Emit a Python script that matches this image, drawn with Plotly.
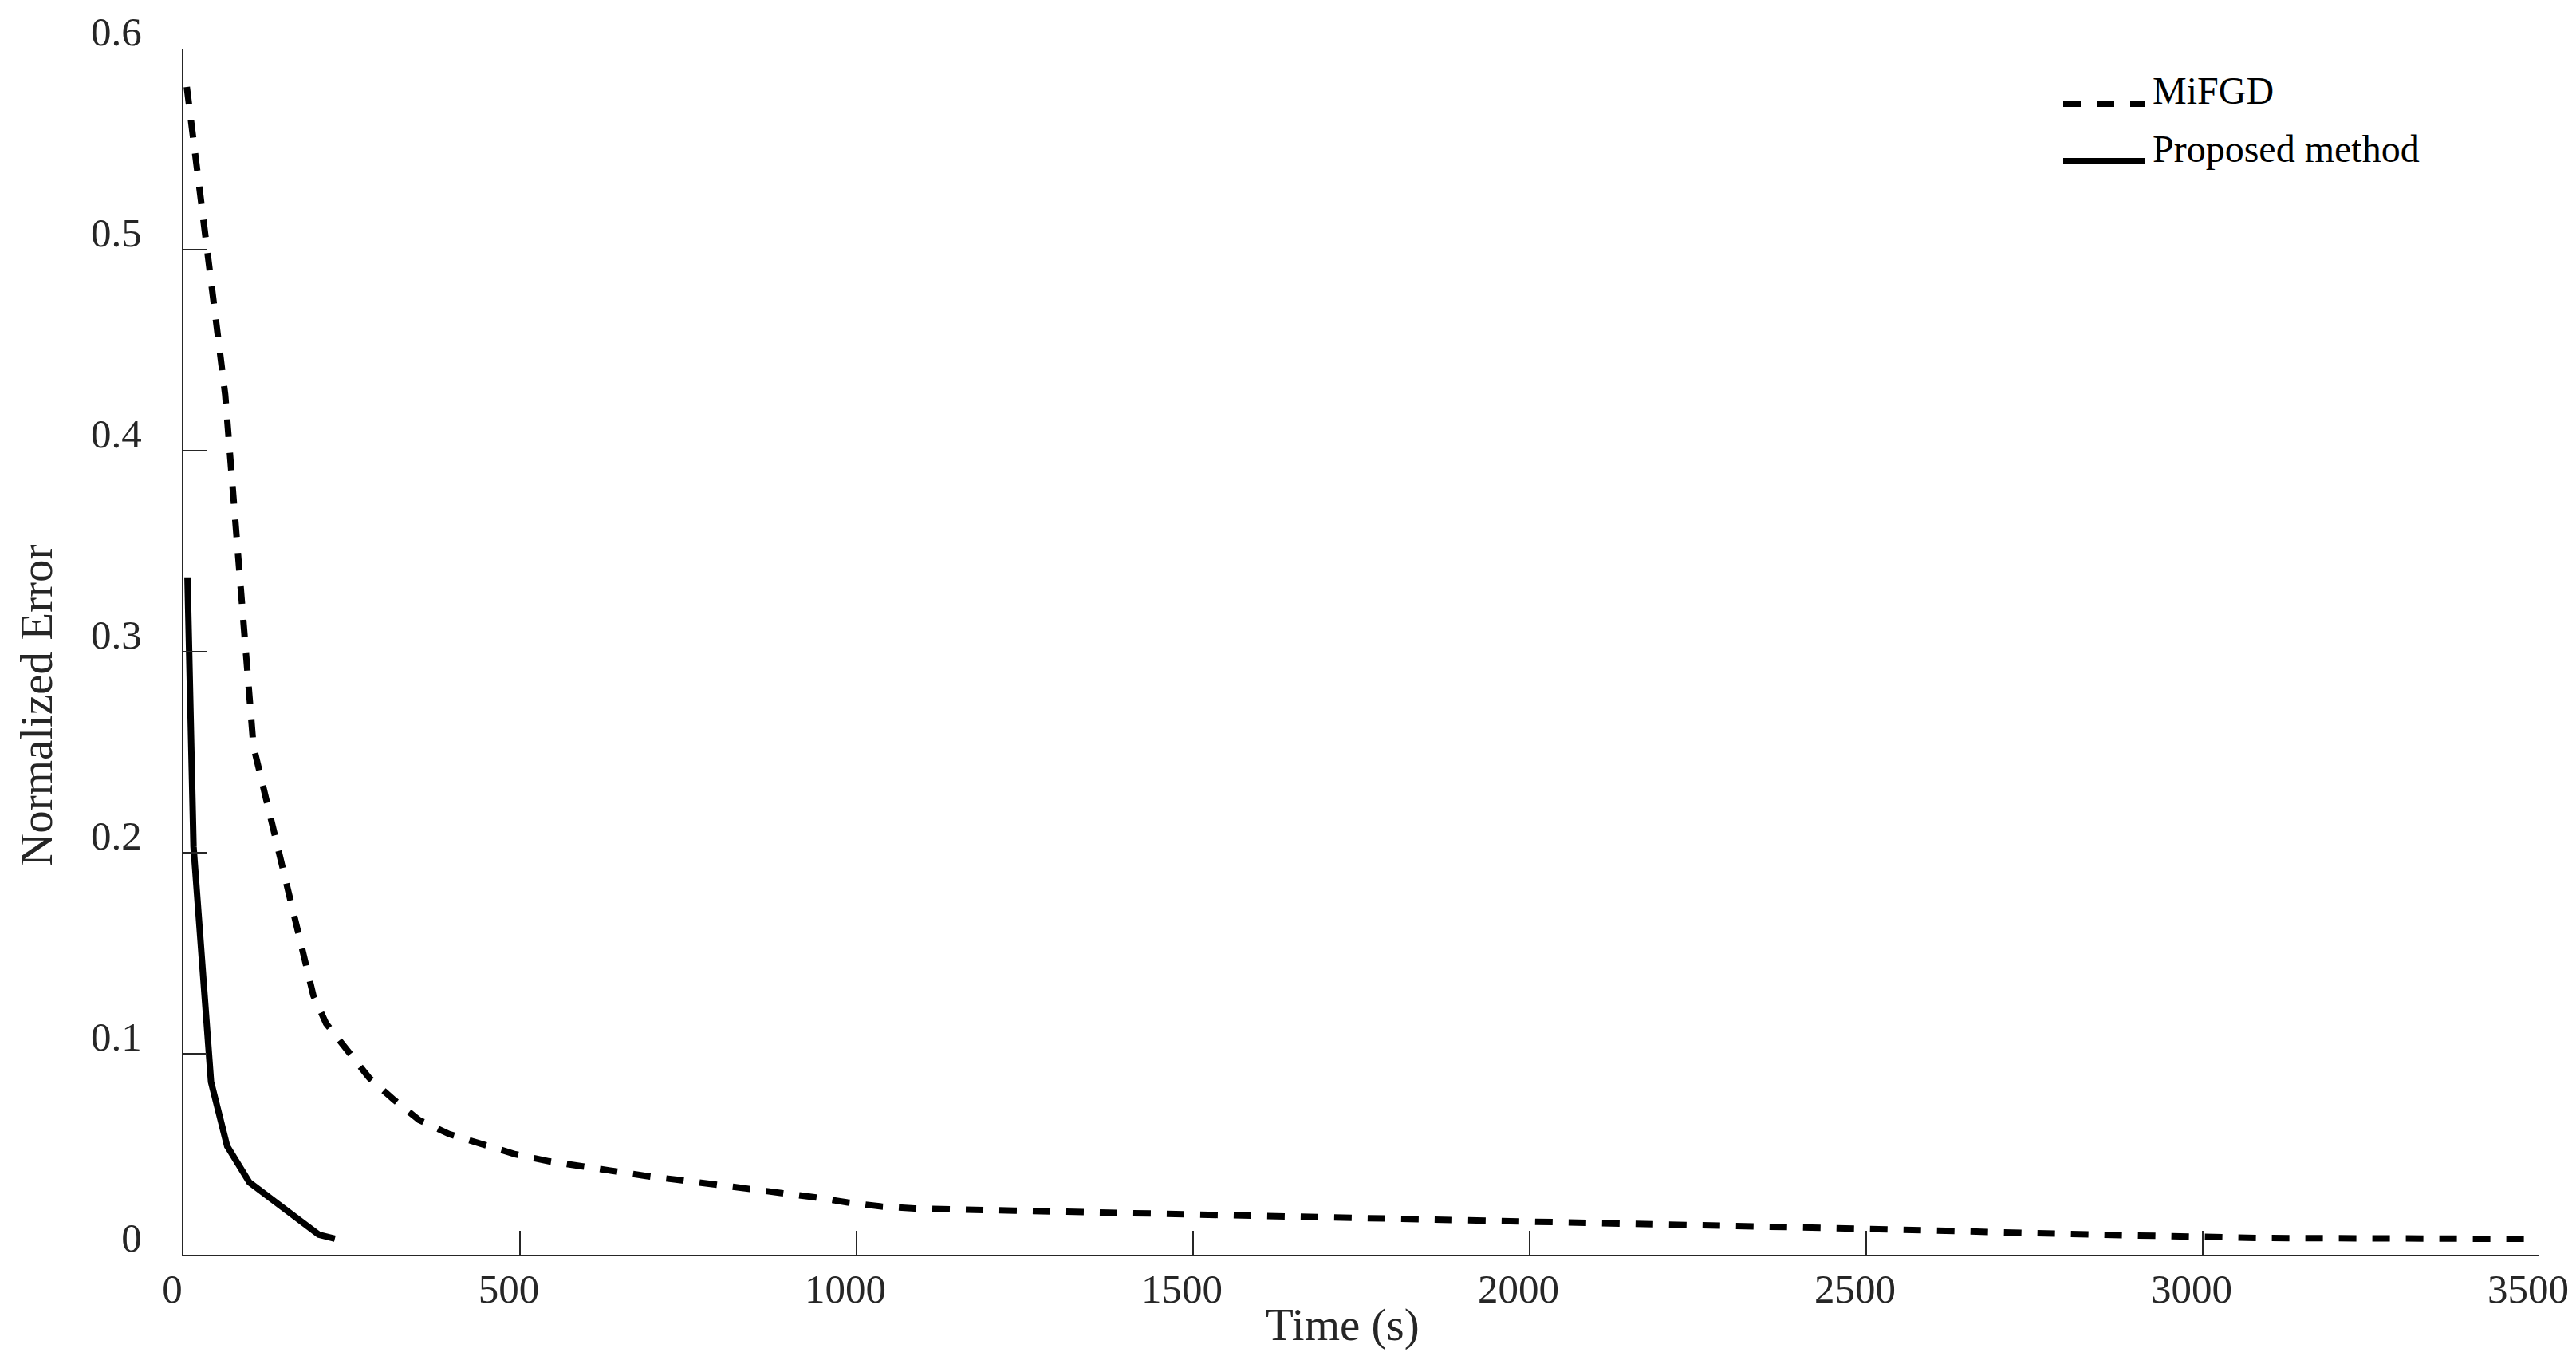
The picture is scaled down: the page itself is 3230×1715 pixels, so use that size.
import plotly.graph_objects as go

# ---- data ----
mifgd_time = [5, 62, 104, 193, 212, 244, 276, 313, 350, 395, 444, 493, 543, 590,
              641, 691, 741, 789, 839, 889, 940, 987, 1037, 1086, 1537, 2139,
              2487, 2841, 3090, 3485]
mifgd_err = [0.581, 0.428, 0.253, 0.129, 0.115, 0.101, 0.088, 0.077, 0.067, 0.060,
             0.055, 0.050, 0.0465, 0.044, 0.0415, 0.039, 0.037, 0.035, 0.033, 0.031,
             0.0285, 0.026, 0.024, 0.023, 0.020, 0.0155, 0.013, 0.010, 0.0083, 0.0079]

proposed_time = [6, 15, 41, 65, 98, 201, 225]
proposed_err = [0.337, 0.203, 0.086, 0.054, 0.036, 0.010, 0.008]

x_ticks = [0, 500, 1000, 1500, 2000, 2500, 3000, 3500]
y_ticks = [0, 0.1, 0.2, 0.3, 0.4, 0.5, 0.6]
y_ticktext = ["0", "0.1", "0.2", "0.3", "0.4", "0.5", "0.6"]

series_names = ["MiFGD", "Proposed method"]

AX = "#262626"
FONT = "Liberation Serif"
DASH = "22px,20px"

# plot area in page pixels (page has an 8px body margin)
OFF = 8
PX0, PX1, PY0, PY1 = 230, 3184, 61, 1573
PW, PH = PX1 - PX0, PY1 - PY0


def px(xp):
    return (xp - PX0) / PW


def py(yp):
    return (PY1 - yp) / PH


fig = go.Figure()
fig.add_trace(go.Scatter(x=mifgd_time, y=mifgd_err, mode="lines", name=series_names[0],
                         line=dict(color="black", width=8, dash=DASH)))
fig.add_trace(go.Scatter(x=proposed_time, y=proposed_err, mode="lines", name=series_names[1],
                         line=dict(color="black", width=8)))

fig.update_layout(
    width=3230, height=1715,
    margin=dict(l=PX0 - OFF, r=3230 - PX1 + OFF, t=PY0 - OFF, b=1715 - PY1 + OFF,
                autoexpand=False),
    paper_bgcolor="white", plot_bgcolor="white",
    showlegend=False,
    font=dict(family=FONT, color=AX),
)
fig.update_xaxes(
    range=[0, 3500], tickvals=x_ticks, ticks="inside", ticklen=30, tickwidth=2,
    tickcolor=AX, showline=True, linecolor=AX, linewidth=2, showgrid=False,
    zeroline=False, tickfont=dict(family=FONT, size=51, color=AX),
    ticklabelshift=-14, automargin=False,
)
try:
    fig.update_xaxes(ticklabelstandoff=-3)
except Exception:
    fig.update_xaxes(ticklabelstandoff=0)

fig.update_yaxes(
    range=[0, 0.6], tickvals=y_ticks, ticktext=y_ticktext, ticks="inside", ticklen=30,
    tickwidth=2, tickcolor=AX, showline=True, linecolor=AX, linewidth=2,
    showgrid=False, zeroline=False, tickfont=dict(family=FONT, size=51, color=AX),
    ticklabelstandoff=40, ticklabelshift=-22, automargin=False,
)

# axis titles
fig.add_annotation(text="Time (s)", xref="paper", yref="paper", x=px(1683), y=py(1661),
                   xanchor="center", yanchor="middle",
                   showarrow=False, font=dict(family=FONT, size=57, color=AX))
fig.add_annotation(text="Normalized Error", xref="paper", yref="paper", x=px(45), y=py(884),
                   xanchor="center", yanchor="middle", textangle=-90,
                   showarrow=False, font=dict(family=FONT, size=57, color=AX))

# legend (drawn as key lines + labels)
leg_rows = [py(130), py(202)]
leg_dash = [DASH, "solid"]
for name, yy, dsh in zip(series_names, leg_rows, leg_dash):
    fig.add_shape(type="line", xref="paper", yref="paper", x0=px(2587), x1=px(2690),
                  y0=yy, y1=yy, line=dict(color="black", width=8, dash=dsh))
    fig.add_annotation(text=name, xref="paper", yref="paper", x=px(2697), y=yy + 16 / PH,
                       xanchor="left", yanchor="middle", showarrow=False,
                       font=dict(family=FONT, size=48, color="black"))

fig.write_html("out.html")
